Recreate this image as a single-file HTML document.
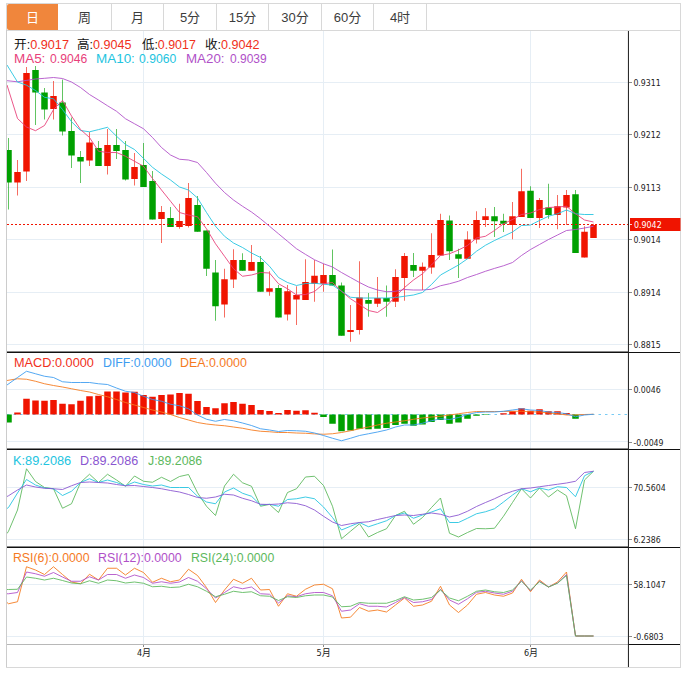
<!DOCTYPE html>
<html lang="zh"><head><meta charset="utf-8"><title>K线图</title>
<style>
html,body{margin:0;padding:0;background:#fff;}
body{width:682px;height:676px;position:relative;overflow:hidden;font-family:"Liberation Sans","Noto Sans CJK SC",sans-serif;}
.tab{position:absolute;top:4px;height:25.5px;line-height:28.7px;text-align:center;font-size:13px;color:#3c3c3c;border-right:1px solid #d8d8d8;}
.tab.on{background:#f0863c;color:#fff;border-right:0;border-radius:2px 0 0 2px;}
.lg{position:absolute;white-space:nowrap;font-size:12px;line-height:14px;height:14px;}
.lg span{position:absolute;top:0;display:inline-block;transform-origin:0 50%;}
.lg span span{position:static;display:inline;transform:none;}
</style></head><body>
<svg width="682" height="676" viewBox="0 0 682 676" style="position:absolute;left:0;top:0"><defs><clipPath id="cp"><rect x="6.5" y="30" width="622" height="615"/></clipPath></defs><g stroke="#e6eef5" stroke-width="1" shape-rendering="crispEdges"><line x1="7" y1="82.5" x2="628" y2="82.5"/><line x1="7" y1="134.5" x2="628" y2="134.5"/><line x1="7" y1="187.5" x2="628" y2="187.5"/><line x1="7" y1="239.5" x2="628" y2="239.5"/><line x1="7" y1="292.5" x2="628" y2="292.5"/><line x1="7" y1="344.5" x2="628" y2="344.5"/><line x1="7" y1="389.5" x2="628" y2="389.5"/><line x1="7" y1="441.5" x2="628" y2="441.5"/><line x1="7" y1="487.5" x2="628" y2="487.5"/><line x1="7" y1="539.5" x2="628" y2="539.5"/><line x1="7" y1="584.5" x2="628" y2="584.5"/><line x1="7" y1="636.5" x2="628" y2="636.5"/><line x1="143.5" y1="30" x2="143.5" y2="645"/><line x1="323.5" y1="30" x2="323.5" y2="645"/><line x1="530.5" y1="30" x2="530.5" y2="645"/></g><g clip-path="url(#cp)"><g stroke="#f01400" stroke-opacity="0.62" stroke-width="1"><line x1="17.5" y1="160.0" x2="17.5" y2="195.5"/><line x1="26.5" y1="67.0" x2="26.5" y2="181.0"/><line x1="53.5" y1="81.0" x2="53.5" y2="119.5"/><line x1="89.5" y1="132.0" x2="89.5" y2="166.0"/><line x1="107.5" y1="129.0" x2="107.5" y2="174.5"/><line x1="134.5" y1="153.0" x2="134.5" y2="185.5"/><line x1="161.5" y1="206.0" x2="161.5" y2="243.0"/><line x1="179.5" y1="203.75" x2="179.5" y2="228.75"/><line x1="188.5" y1="183.0" x2="188.5" y2="227.5"/><line x1="224.5" y1="268.75" x2="224.5" y2="317.5"/><line x1="233.5" y1="249.25" x2="233.5" y2="288.0"/><line x1="251.5" y1="245.0" x2="251.5" y2="270.75"/><line x1="269.5" y1="271.25" x2="269.5" y2="295.75"/><line x1="287.5" y1="285.0" x2="287.5" y2="320.5"/><line x1="296.5" y1="286.25" x2="296.5" y2="325.0"/><line x1="305.5" y1="259.25" x2="305.5" y2="300.0"/><line x1="314.5" y1="260.0" x2="314.5" y2="301.75"/><line x1="323.5" y1="263.75" x2="323.5" y2="291.75"/><line x1="350.5" y1="305.0" x2="350.5" y2="341.75"/><line x1="359.5" y1="261.25" x2="359.5" y2="334.5"/><line x1="377.5" y1="277.0" x2="377.5" y2="307.0"/><line x1="395.5" y1="269.25" x2="395.5" y2="307.0"/><line x1="404.5" y1="253.0" x2="404.5" y2="300.75"/><line x1="422.5" y1="262.5" x2="422.5" y2="290.0"/><line x1="431.5" y1="233.25" x2="431.5" y2="273.75"/><line x1="440.5" y1="213.75" x2="440.5" y2="255.5"/><line x1="467.5" y1="231.25" x2="467.5" y2="258.75"/><line x1="476.5" y1="211.25" x2="476.5" y2="243.5"/><line x1="485.5" y1="208.0" x2="485.5" y2="227.0"/><line x1="512.5" y1="202.0" x2="512.5" y2="239.25"/><line x1="521.5" y1="168.75" x2="521.5" y2="217.0"/><line x1="539.5" y1="198.0" x2="539.5" y2="228.0"/><line x1="557.5" y1="195.0" x2="557.5" y2="229.25"/><line x1="566.5" y1="190.0" x2="566.5" y2="225.0"/><line x1="584.5" y1="226.25" x2="584.5" y2="257.5"/><line x1="593.5" y1="223.75" x2="593.5" y2="238.0"/></g><g stroke="#00a000" stroke-opacity="0.62" stroke-width="1"><line x1="8.5" y1="138.0" x2="8.5" y2="209.5"/><line x1="35.5" y1="66.0" x2="35.5" y2="125.0"/><line x1="44.5" y1="88.0" x2="44.5" y2="119.5"/><line x1="62.5" y1="79.5" x2="62.5" y2="135.5"/><line x1="71.5" y1="117.5" x2="71.5" y2="168.0"/><line x1="80.5" y1="151.0" x2="80.5" y2="183.0"/><line x1="98.5" y1="141.0" x2="98.5" y2="166.0"/><line x1="116.5" y1="129.0" x2="116.5" y2="159.0"/><line x1="125.5" y1="141.0" x2="125.5" y2="180.5"/><line x1="143.5" y1="143.0" x2="143.5" y2="187.0"/><line x1="152.5" y1="171.0" x2="152.5" y2="219.5"/><line x1="170.5" y1="207.0" x2="170.5" y2="227.0"/><line x1="197.5" y1="196.0" x2="197.5" y2="231.75"/><line x1="206.5" y1="230.5" x2="206.5" y2="276.0"/><line x1="215.5" y1="260.0" x2="215.5" y2="320.75"/><line x1="242.5" y1="253.25" x2="242.5" y2="270.75"/><line x1="260.5" y1="256.0" x2="260.5" y2="291.75"/><line x1="278.5" y1="285.0" x2="278.5" y2="317.5"/><line x1="332.5" y1="249.5" x2="332.5" y2="285.5"/><line x1="341.5" y1="282.5" x2="341.5" y2="335.75"/><line x1="368.5" y1="293.0" x2="368.5" y2="316.75"/><line x1="386.5" y1="285.5" x2="386.5" y2="316.75"/><line x1="413.5" y1="253.0" x2="413.5" y2="277.0"/><line x1="449.5" y1="215.5" x2="449.5" y2="260.0"/><line x1="458.5" y1="248.75" x2="458.5" y2="278.0"/><line x1="494.5" y1="207.0" x2="494.5" y2="237.0"/><line x1="503.5" y1="213.75" x2="503.5" y2="232.0"/><line x1="530.5" y1="186.25" x2="530.5" y2="218.0"/><line x1="548.5" y1="183.75" x2="548.5" y2="218.75"/><line x1="575.5" y1="190.0" x2="575.5" y2="253.0"/></g><g fill="#f01400"><rect x="14.25" y="172.0" width="6.5" height="10.50"/><rect x="23.25" y="73.0" width="6.5" height="98.50"/><rect x="50.25" y="96.0" width="6.5" height="13.00"/><rect x="86.25" y="142.5" width="6.5" height="18.00"/><rect x="104.25" y="145.0" width="6.5" height="21.00"/><rect x="131.25" y="167.0" width="6.5" height="12.00"/><rect x="158.25" y="212.0" width="6.5" height="7.00"/><rect x="176.25" y="221.0" width="6.5" height="6.00"/><rect x="185.25" y="198.0" width="6.5" height="28.00"/><rect x="221.25" y="279.25" width="6.5" height="25.25"/><rect x="230.25" y="260.0" width="6.5" height="19.50"/><rect x="248.25" y="262.0" width="6.5" height="8.75"/><rect x="266.25" y="288.25" width="6.5" height="3.50"/><rect x="284.25" y="291.25" width="6.5" height="23.25"/><rect x="293.25" y="295.0" width="6.5" height="4.50"/><rect x="302.25" y="282.0" width="6.5" height="18.00"/><rect x="311.25" y="275.75" width="6.5" height="8.00"/><rect x="320.25" y="275.0" width="6.5" height="8.75"/><rect x="347.25" y="330.0" width="6.5" height="2.00"/><rect x="356.25" y="297.5" width="6.5" height="32.50"/><rect x="374.25" y="298.0" width="6.5" height="5.75"/><rect x="392.25" y="277.0" width="6.5" height="24.75"/><rect x="401.25" y="256.0" width="6.5" height="22.00"/><rect x="419.25" y="266.75" width="6.5" height="4.00"/><rect x="428.25" y="255.0" width="6.5" height="12.50"/><rect x="437.25" y="220.0" width="6.5" height="35.50"/><rect x="464.25" y="239.5" width="6.5" height="19.25"/><rect x="473.25" y="220.0" width="6.5" height="19.50"/><rect x="482.25" y="216.25" width="6.5" height="3.75"/><rect x="509.25" y="216.25" width="6.5" height="8.75"/><rect x="518.25" y="191.25" width="6.5" height="25.75"/><rect x="536.25" y="200.0" width="6.5" height="18.00"/><rect x="554.25" y="206.25" width="6.5" height="8.75"/><rect x="563.25" y="195.0" width="6.5" height="12.50"/><rect x="581.25" y="231.75" width="6.5" height="25.75"/><rect x="590.25" y="225.0" width="6.5" height="13.00"/></g><g fill="#00a000"><rect x="5.25" y="150.0" width="6.5" height="32.50"/><rect x="32.25" y="70.0" width="6.5" height="22.50"/><rect x="41.25" y="92.5" width="6.5" height="17.00"/><rect x="59.25" y="102.5" width="6.5" height="29.00"/><rect x="68.25" y="131.0" width="6.5" height="24.50"/><rect x="77.25" y="157.0" width="6.5" height="4.50"/><rect x="95.25" y="148.0" width="6.5" height="18.00"/><rect x="113.25" y="145.0" width="6.5" height="6.00"/><rect x="122.25" y="150.0" width="6.5" height="29.50"/><rect x="140.25" y="165.0" width="6.5" height="22.00"/><rect x="149.25" y="181.0" width="6.5" height="38.50"/><rect x="167.25" y="218.0" width="6.5" height="9.00"/><rect x="194.25" y="205.0" width="6.5" height="26.75"/><rect x="203.25" y="230.5" width="6.5" height="38.25"/><rect x="212.25" y="272.5" width="6.5" height="33.75"/><rect x="239.25" y="260.0" width="6.5" height="10.75"/><rect x="257.25" y="262.0" width="6.5" height="29.75"/><rect x="275.25" y="288.0" width="6.5" height="29.50"/><rect x="329.25" y="275.0" width="6.5" height="10.50"/><rect x="338.25" y="285.5" width="6.5" height="50.25"/><rect x="365.25" y="300.0" width="6.5" height="3.75"/><rect x="383.25" y="298.0" width="6.5" height="3.75"/><rect x="410.25" y="265.0" width="6.5" height="5.75"/><rect x="446.25" y="220.5" width="6.5" height="30.75"/><rect x="455.25" y="254.25" width="6.5" height="4.50"/><rect x="491.25" y="216.25" width="6.5" height="5.00"/><rect x="500.25" y="220.75" width="6.5" height="3.00"/><rect x="527.25" y="190.75" width="6.5" height="27.25"/><rect x="545.25" y="207.5" width="6.5" height="7.50"/><rect x="572.25" y="194.25" width="6.5" height="58.75"/></g><line x1="7" y1="224.5" x2="628" y2="224.5" stroke="#f01400" stroke-width="1" stroke-dasharray="2,2"/><polyline points="7.00,80.70 17.50,81.80 26.50,80.40 35.50,79.00 44.50,78.30 53.50,77.50 62.50,78.50 71.50,82.00 80.50,87.50 89.50,94.50 98.50,100.00 107.50,105.75 116.50,111.25 125.50,118.75 134.50,123.75 143.50,128.75 152.50,137.50 161.50,147.50 170.50,155.00 179.50,159.25 188.50,160.00 197.50,162.50 206.50,172.50 215.50,183.25 224.50,192.50 233.50,200.00 242.50,206.25 251.50,212.00 260.50,218.75 269.50,226.25 278.50,233.75 287.50,241.25 296.50,248.75 305.50,254.40 314.50,259.75 323.50,263.75 332.50,267.00 341.50,272.50 350.50,277.50 359.50,282.50 368.50,287.00 377.50,290.00 386.50,291.75 395.50,291.25 404.50,289.50 413.50,290.00 422.50,290.00 431.50,289.25 440.50,285.75 449.50,283.75 458.50,281.25 467.50,277.50 476.50,274.50 485.50,271.25 494.50,268.40 503.50,265.75 512.50,262.50 521.50,255.50 530.50,249.50 539.50,244.50 548.50,239.50 557.50,235.00 566.50,230.50 575.50,229.50 584.50,228.00 593.50,226.25" fill="none" stroke="#b050c8" stroke-width="0.88" stroke-linejoin="round"/><polyline points="7.00,65.00 17.50,82.00 26.50,85.20 35.50,90.50 44.50,97.30 53.50,98.80 62.50,109.50 71.50,121.70 80.50,130.50 89.50,131.80 98.50,129.60 107.50,127.30 116.50,136.20 125.50,144.50 134.50,149.50 143.50,158.40 152.50,167.30 161.50,174.00 170.50,180.00 179.50,187.00 188.50,190.00 197.50,198.00 206.50,212.50 215.50,226.25 224.50,236.25 233.50,243.00 242.50,247.50 251.50,253.00 260.50,257.50 269.50,266.25 278.50,277.50 287.50,282.50 296.50,285.50 305.50,283.50 314.50,283.25 323.50,284.25 332.50,285.00 341.50,291.25 350.50,297.25 359.50,298.00 368.50,298.00 377.50,298.00 386.50,298.00 395.50,297.50 404.50,296.25 413.50,295.00 422.50,292.50 431.50,284.50 440.50,275.00 449.50,270.00 458.50,265.00 467.50,258.75 476.50,251.25 485.50,245.25 494.50,240.50 503.50,236.25 512.50,232.00 521.50,225.50 530.50,225.00 539.50,220.50 548.50,216.25 557.50,213.75 566.50,210.00 575.50,213.75 584.50,214.50 593.50,214.50" fill="none" stroke="#22c4e0" stroke-width="0.88" stroke-linejoin="round"/><polyline points="7.00,85.00 17.50,118.50 26.50,127.00 35.50,130.70 44.50,125.50 53.50,109.60 62.50,100.30 71.50,116.00 80.50,129.50 89.50,137.50 98.50,151.25 107.50,152.50 116.50,152.50 125.50,156.25 134.50,161.25 143.50,166.25 152.50,178.50 161.50,190.00 170.50,201.25 179.50,212.50 188.50,215.00 197.50,216.75 206.50,228.75 215.50,243.75 224.50,256.25 233.50,268.75 242.50,276.25 251.50,275.00 260.50,272.50 269.50,273.00 278.50,283.75 287.50,288.75 296.50,295.00 305.50,294.50 314.50,291.50 323.50,283.75 332.50,282.50 341.50,291.25 350.50,298.75 359.50,304.50 368.50,310.50 377.50,312.50 386.50,306.25 395.50,296.25 404.50,287.50 413.50,280.00 422.50,273.75 431.50,265.00 440.50,255.50 449.50,253.75 458.50,250.00 467.50,245.50 476.50,238.00 485.50,236.25 494.50,230.50 503.50,223.75 512.50,219.50 521.50,214.50 530.50,213.00 539.50,209.50 548.50,207.50 557.50,207.00 566.50,206.25 575.50,213.75 584.50,220.00 593.50,222.00" fill="none" stroke="#e8407a" stroke-width="0.88" stroke-linejoin="round"/><line x1="7" y1="414.5" x2="628" y2="414.5" stroke="#62c2f2" stroke-opacity="0.85" stroke-width="1" stroke-dasharray="2.5,4"/><g fill="#f01400"><rect x="14.25" y="412.5" width="6.5" height="2.00"/><rect x="23.25" y="398.75" width="6.5" height="15.75"/><rect x="32.25" y="400.5" width="6.5" height="14.00"/><rect x="41.25" y="400.75" width="6.5" height="13.75"/><rect x="50.25" y="400" width="6.5" height="14.50"/><rect x="59.25" y="403.75" width="6.5" height="10.75"/><rect x="68.25" y="404.25" width="6.5" height="10.25"/><rect x="77.25" y="400.75" width="6.5" height="13.75"/><rect x="86.25" y="396.25" width="6.5" height="18.25"/><rect x="95.25" y="395.75" width="6.5" height="18.75"/><rect x="104.25" y="391.5" width="6.5" height="23.00"/><rect x="113.25" y="391.5" width="6.5" height="23.00"/><rect x="122.25" y="392.5" width="6.5" height="22.00"/><rect x="131.25" y="391.75" width="6.5" height="22.75"/><rect x="140.25" y="395" width="6.5" height="19.50"/><rect x="149.25" y="396.75" width="6.5" height="17.75"/><rect x="158.25" y="395" width="6.5" height="19.50"/><rect x="167.25" y="394.5" width="6.5" height="20.00"/><rect x="176.25" y="393" width="6.5" height="21.50"/><rect x="185.25" y="393.75" width="6.5" height="20.75"/><rect x="194.25" y="401" width="6.5" height="13.50"/><rect x="203.25" y="407" width="6.5" height="7.50"/><rect x="212.25" y="408.25" width="6.5" height="6.25"/><rect x="221.25" y="403.25" width="6.5" height="11.25"/><rect x="230.25" y="402" width="6.5" height="12.50"/><rect x="239.25" y="403.75" width="6.5" height="10.75"/><rect x="248.25" y="405" width="6.5" height="9.50"/><rect x="257.25" y="410" width="6.5" height="4.50"/><rect x="266.25" y="411" width="6.5" height="3.50"/><rect x="275.25" y="413" width="6.5" height="1.50"/><rect x="284.25" y="410" width="6.5" height="4.50"/><rect x="293.25" y="410.75" width="6.5" height="3.75"/><rect x="302.25" y="410.25" width="6.5" height="4.25"/><rect x="311.25" y="412.75" width="6.5" height="1.75"/><rect x="500.25" y="413.25" width="6.5" height="1.25"/><rect x="509.25" y="411.25" width="6.5" height="3.25"/><rect x="518.25" y="408.25" width="6.5" height="6.25"/><rect x="527.25" y="410.75" width="6.5" height="3.75"/><rect x="536.25" y="409.25" width="6.5" height="5.25"/><rect x="545.25" y="411.25" width="6.5" height="3.25"/><rect x="554.25" y="411.25" width="6.5" height="3.25"/><rect x="563.25" y="413" width="6.5" height="1.50"/><rect x="581.25" y="414.2" width="6.5" height="0.30"/></g><g fill="#00a000"><rect x="5.25" y="414.5" width="6.5" height="8.00"/><rect x="320.25" y="414.5" width="6.5" height="2.50"/><rect x="329.25" y="414.5" width="6.5" height="9.25"/><rect x="338.25" y="414.5" width="6.5" height="16.75"/><rect x="347.25" y="414.5" width="6.5" height="16.00"/><rect x="356.25" y="414.5" width="6.5" height="14.25"/><rect x="365.25" y="414.5" width="6.5" height="14.75"/><rect x="374.25" y="414.5" width="6.5" height="14.25"/><rect x="383.25" y="414.5" width="6.5" height="13.50"/><rect x="392.25" y="414.5" width="6.5" height="10.50"/><rect x="401.25" y="414.5" width="6.5" height="9.25"/><rect x="410.25" y="414.5" width="6.5" height="11.25"/><rect x="419.25" y="414.5" width="6.5" height="10.00"/><rect x="428.25" y="414.5" width="6.5" height="7.50"/><rect x="437.25" y="414.5" width="6.5" height="5.50"/><rect x="446.25" y="414.5" width="6.5" height="9.25"/><rect x="455.25" y="414.5" width="6.5" height="8.00"/><rect x="464.25" y="414.5" width="6.5" height="4.25"/><rect x="473.25" y="414.5" width="6.5" height="1.25"/><rect x="482.25" y="414.5" width="6.5" height="0.50"/><rect x="572.25" y="414.5" width="6.5" height="4.25"/></g><polyline points="7.00,380.50 17.50,378.75 26.50,379.25 35.50,381.25 44.50,383.75 53.50,385.50 62.50,387.00 71.50,388.75 80.50,390.50 89.50,392.00 98.50,394.50 107.50,396.75 116.50,399.50 125.50,402.50 134.50,405.00 143.50,407.50 152.50,410.00 161.50,412.00 170.50,414.50 179.50,417.50 188.50,420.00 197.50,422.50 206.50,424.00 215.50,425.00 224.50,425.75 233.50,427.00 242.50,428.25 251.50,430.00 260.50,431.25 269.50,431.75 278.50,432.50 287.50,432.50 296.50,433.00 305.50,433.25 314.50,433.90 323.50,434.25 332.50,433.75 341.50,432.50 350.50,430.75 359.50,428.75 368.50,427.00 377.50,425.00 386.50,423.25 395.50,422.00 404.50,420.75 413.50,419.25 422.50,418.00 431.50,417.00 440.50,416.25 449.50,415.00 458.50,413.75 467.50,412.50 476.50,411.50 485.50,411.50 494.50,411.50 503.50,411.50 512.50,411.25 521.50,411.25 530.50,411.75 539.50,412.00 548.50,413.00 557.50,413.75 566.50,415.00 575.50,415.00 584.50,414.50 593.50,414.25" fill="none" stroke="#f57a1e" stroke-width="0.88" stroke-linejoin="round"/><polyline points="7.00,385.00 17.50,377.50 26.50,371.25 35.50,373.75 44.50,376.25 53.50,377.50 62.50,381.75 71.50,382.50 80.50,382.50 89.50,382.50 98.50,383.75 107.50,384.50 116.50,388.00 125.50,391.25 134.50,392.50 143.50,396.25 152.50,399.50 161.50,401.25 170.50,404.25 179.50,405.75 188.50,408.75 197.50,415.00 206.50,419.25 215.50,421.25 224.50,419.50 233.50,420.75 242.50,423.00 251.50,425.50 260.50,428.75 269.50,430.00 278.50,431.50 287.50,430.50 296.50,430.75 305.50,431.25 314.50,433.00 323.50,435.50 332.50,438.25 341.50,440.75 350.50,438.25 359.50,435.50 368.50,433.75 377.50,432.00 386.50,430.00 395.50,427.00 404.50,425.00 413.50,425.00 422.50,423.25 431.50,420.75 440.50,418.75 449.50,419.50 458.50,417.50 467.50,414.50 476.50,412.50 485.50,412.00 494.50,412.00 503.50,411.25 512.50,410.00 521.50,408.75 530.50,410.00 539.50,410.50 548.50,412.00 557.50,412.50 566.50,413.75 575.50,416.75 584.50,415.00 593.50,414.25" fill="none" stroke="#3c9cf0" stroke-width="0.88" stroke-linejoin="round"/><polyline points="7.00,533.50 8.50,531.25 17.50,510.00 26.50,468.75 35.50,481.50 44.50,487.50 53.50,488.75 62.50,508.25 71.50,503.75 80.50,482.50 89.50,474.25 98.50,482.50 107.50,474.25 116.50,480.00 125.50,486.25 134.50,476.00 143.50,481.25 152.50,482.25 161.50,477.25 170.50,481.50 179.50,476.50 188.50,474.50 197.50,492.75 206.50,506.25 215.50,515.50 224.50,486.00 233.50,474.25 242.50,482.75 251.50,486.25 260.50,506.25 269.50,504.40 278.50,512.50 287.50,492.50 296.50,488.75 305.50,477.00 314.50,476.25 323.50,485.50 332.50,506.25 341.50,538.75 350.50,531.25 359.50,523.75 368.50,537.00 377.50,532.50 386.50,528.75 395.50,515.50 404.50,511.25 413.50,524.25 422.50,517.50 431.50,507.50 440.50,498.00 449.50,533.25 458.50,537.00 467.50,532.50 476.50,528.50 485.50,528.75 494.50,528.25 503.50,516.25 512.50,502.50 521.50,488.75 530.50,498.00 539.50,488.00 548.50,497.00 557.50,490.00 566.50,495.75 575.50,528.75 584.50,480.00 593.50,471.25" fill="none" stroke="#5cb85c" stroke-width="0.88" stroke-linejoin="round"/><polyline points="7.00,508.50 8.50,507.50 17.50,493.00 26.50,479.50 35.50,485.00 44.50,488.00 53.50,488.75 62.50,495.50 71.50,491.25 80.50,482.50 89.50,478.75 98.50,482.50 107.50,480.00 116.50,482.50 125.50,485.75 134.50,482.00 143.50,484.50 152.50,486.00 161.50,485.00 170.50,487.50 179.50,487.50 188.50,487.50 197.50,496.25 206.50,502.00 215.50,503.75 224.50,492.00 233.50,488.00 242.50,493.25 251.50,496.25 260.50,505.00 269.50,504.25 278.50,506.25 287.50,499.50 296.50,498.75 305.50,497.00 314.50,498.75 323.50,507.00 332.50,517.50 341.50,530.00 350.50,526.25 359.50,522.50 368.50,526.75 377.50,523.75 386.50,520.75 395.50,515.50 404.50,513.00 413.50,518.25 422.50,515.00 431.50,512.00 440.50,508.75 449.50,522.50 458.50,522.50 467.50,518.25 476.50,513.75 485.50,511.75 494.50,508.75 503.50,502.00 512.50,495.00 521.50,488.75 530.50,491.75 539.50,488.00 548.50,490.00 557.50,486.75 566.50,487.50 575.50,496.75 584.50,475.75 593.50,471.25" fill="none" stroke="#22c4e0" stroke-width="0.88" stroke-linejoin="round"/><polyline points="7.00,496.50 8.50,495.75 17.50,490.00 26.50,485.00 35.50,487.00 44.50,488.25 53.50,488.75 62.50,489.50 71.50,485.75 80.50,482.50 89.50,482.00 98.50,482.50 107.50,483.00 116.50,484.50 125.50,485.75 134.50,485.50 143.50,486.50 152.50,487.50 161.50,488.75 170.50,490.50 179.50,492.00 188.50,494.50 197.50,497.50 206.50,498.25 215.50,497.00 224.50,494.25 233.50,495.00 242.50,498.25 251.50,500.75 260.50,504.25 269.50,504.50 278.50,504.00 287.50,502.75 296.50,503.50 305.50,505.75 314.50,510.00 323.50,516.25 332.50,522.00 341.50,525.50 350.50,523.75 359.50,522.50 368.50,521.75 377.50,519.50 386.50,517.50 395.50,515.50 404.50,515.00 413.50,515.50 422.50,514.25 431.50,513.00 440.50,514.25 449.50,517.00 458.50,515.00 467.50,511.25 476.50,506.50 485.50,502.50 494.50,498.75 503.50,494.50 512.50,491.25 521.50,488.75 530.50,488.00 539.50,486.75 548.50,485.50 557.50,484.25 566.50,483.00 575.50,481.25 584.50,472.50 593.50,471.25" fill="none" stroke="#8a55d0" stroke-width="0.88" stroke-linejoin="round"/><polyline points="7.00,602.50 8.50,603.75 17.50,601.75 26.50,566.75 35.50,570.00 44.50,574.50 53.50,566.75 62.50,574.50 71.50,582.00 80.50,583.75 89.50,574.25 98.50,580.00 107.50,568.25 116.50,568.25 125.50,575.00 134.50,568.25 143.50,572.50 152.50,582.25 161.50,578.25 170.50,581.75 179.50,580.00 188.50,569.25 197.50,575.50 206.50,587.50 215.50,602.50 224.50,590.00 233.50,579.25 242.50,583.25 251.50,578.25 260.50,590.00 269.50,589.50 278.50,606.25 287.50,593.75 296.50,596.25 305.50,589.25 314.50,585.00 323.50,584.25 332.50,588.75 341.50,618.00 350.50,617.20 359.50,607.50 368.50,611.25 377.50,610.00 386.50,612.00 395.50,605.00 404.50,598.00 413.50,606.25 422.50,605.00 431.50,601.25 440.50,586.25 449.50,605.00 458.50,612.50 467.50,605.00 476.50,594.25 485.50,592.50 494.50,595.00 503.50,596.25 512.50,593.00 521.50,579.25 530.50,591.75 539.50,580.00 548.50,587.00 557.50,582.00 566.50,572.00 575.50,636.00 584.50,636.00 593.50,636.00" fill="none" stroke="#f57a1e" stroke-width="0.88" stroke-linejoin="round"/><polyline points="7.00,593.75 8.50,593.75 17.50,592.50 26.50,572.00 35.50,573.75 44.50,576.25 53.50,572.50 62.50,577.00 71.50,581.25 80.50,581.25 89.50,576.75 98.50,580.00 107.50,574.50 116.50,574.50 125.50,578.25 134.50,575.00 143.50,577.50 152.50,583.25 161.50,581.75 170.50,583.25 179.50,582.00 188.50,577.50 197.50,581.25 206.50,588.75 215.50,598.00 224.50,592.50 233.50,586.75 242.50,588.75 251.50,587.00 260.50,593.75 269.50,594.25 278.50,603.00 287.50,595.75 296.50,596.75 305.50,593.75 314.50,592.50 323.50,592.50 332.50,595.75 341.50,611.25 350.50,610.00 359.50,603.75 368.50,606.25 377.50,606.25 386.50,607.00 395.50,602.50 404.50,597.50 413.50,602.50 422.50,601.75 431.50,599.50 440.50,589.25 449.50,600.00 458.50,604.25 467.50,598.75 476.50,592.25 485.50,591.25 494.50,593.00 503.50,594.25 512.50,591.25 521.50,580.75 530.50,590.75 539.50,581.25 548.50,587.00 557.50,583.00 566.50,574.50 575.50,636.00 584.50,636.00 593.50,636.00" fill="none" stroke="#b050c8" stroke-width="0.88" stroke-linejoin="round"/><polyline points="7.00,589.50 8.50,589.50 17.50,589.25 26.50,577.00 35.50,578.25 44.50,580.00 53.50,578.25 62.50,580.50 71.50,583.00 80.50,583.75 89.50,580.75 98.50,583.25 107.50,580.00 116.50,580.75 125.50,583.00 134.50,582.00 143.50,583.25 152.50,586.75 161.50,586.25 170.50,587.50 179.50,587.00 188.50,584.25 197.50,586.75 206.50,591.25 215.50,596.75 224.50,594.25 233.50,591.25 242.50,592.50 251.50,591.75 260.50,595.75 269.50,596.25 278.50,600.50 287.50,596.75 296.50,597.50 305.50,595.75 314.50,595.00 323.50,595.00 332.50,597.00 341.50,606.75 350.50,606.25 359.50,602.50 368.50,603.25 377.50,603.25 386.50,603.25 395.50,600.50 404.50,596.75 413.50,600.00 422.50,599.25 431.50,597.50 440.50,590.00 449.50,598.00 458.50,600.75 467.50,596.25 476.50,591.25 485.50,590.00 494.50,591.75 503.50,592.50 512.50,590.00 521.50,581.25 530.50,590.00 539.50,581.75 548.50,587.00 557.50,583.25 566.50,575.50 575.50,636.00 584.50,636.00 593.50,636.00" fill="none" stroke="#5cb85c" stroke-width="0.88" stroke-linejoin="round"/></g><g shape-rendering="crispEdges"><rect x="6.5" y="3.5" width="674" height="664" fill="none" stroke="#d8d8d8"/><line x1="6.5" y1="30" x2="6.5" y2="667" stroke="#cccccc"/><line x1="7" y1="30.5" x2="680" y2="30.5" stroke="#d8d8d8"/><line x1="7" y1="644.5" x2="628" y2="644.5" stroke="#b8b8b8"/><line x1="628" y1="644.5" x2="680" y2="644.5" stroke="#111"/><line x1="7" y1="352.3" x2="628" y2="352.3" stroke="#111" stroke-width="1.4" shape-rendering="auto"/><line x1="628" y1="352.5" x2="680" y2="352.5" stroke="#111" stroke-width="1" shape-rendering="auto"/><line x1="7" y1="449.3" x2="628" y2="449.3" stroke="#111" stroke-width="1.4" shape-rendering="auto"/><line x1="628" y1="449.5" x2="680" y2="449.5" stroke="#111" stroke-width="1" shape-rendering="auto"/><line x1="7" y1="547.3" x2="628" y2="547.3" stroke="#111" stroke-width="1.4" shape-rendering="auto"/><line x1="628" y1="547.5" x2="680" y2="547.5" stroke="#111" stroke-width="1" shape-rendering="auto"/><line x1="628.45" y1="31" x2="628.45" y2="667" stroke="#262626" stroke-width="1.05" shape-rendering="auto"/><g stroke="#8c8c8c"><line x1="629" y1="82.5" x2="632" y2="82.5"/><line x1="629" y1="134.5" x2="632" y2="134.5"/><line x1="629" y1="187.5" x2="632" y2="187.5"/><line x1="629" y1="239.5" x2="632" y2="239.5"/><line x1="629" y1="292.5" x2="632" y2="292.5"/><line x1="629" y1="344.5" x2="632" y2="344.5"/><line x1="629" y1="389.5" x2="632" y2="389.5"/><line x1="629" y1="442.5" x2="632" y2="442.5"/><line x1="629" y1="487.5" x2="632" y2="487.5"/><line x1="629" y1="539.5" x2="632" y2="539.5"/><line x1="629" y1="584.5" x2="632" y2="584.5"/><line x1="629" y1="636.5" x2="632" y2="636.5"/><line x1="143.5" y1="645" x2="143.5" y2="647"/><line x1="323.5" y1="645" x2="323.5" y2="647"/><line x1="530.5" y1="645" x2="530.5" y2="647"/></g></g><rect x="630" y="218" width="50.5" height="13" fill="#f01400"/><line x1="629" y1="224.5" x2="632" y2="224.5" stroke="#fff" stroke-opacity="0.8"/><g font-family="'DejaVu Sans Condensed','Liberation Sans',sans-serif" font-size="8.7" fill="#1c1c1c"><text x="633.4" y="85.8">0.9311</text><text x="633.4" y="137.8">0.9212</text><text x="633.4" y="190.6">0.9113</text><text x="633.4" y="243.0">0.9014</text><text x="633.4" y="295.5">0.8914</text><text x="633.4" y="347.9">0.8815</text><text x="633.4" y="393.0">0.0046</text><text x="633.4" y="445.5">-0.0049</text><text x="633.4" y="490.8">70.5604</text><text x="633.4" y="542.9">6.2386</text><text x="633.4" y="587.6">58.1047</text><text x="633.4" y="640.0">-0.6803</text></g><text x="634" y="228" font-family="'DejaVu Sans Condensed','Liberation Sans',sans-serif" font-size="8.8" fill="#fff">0.9042</text><g font-family="'DejaVu Sans Condensed','Liberation Sans','Noto Sans CJK SC',sans-serif" font-size="9" fill="#222"><text x="144" y="656" text-anchor="middle">4月</text><text x="323.7" y="656" text-anchor="middle">5月</text><text x="531" y="656" text-anchor="middle">6月</text></g></svg>
<div class="tab on" style="left:7px;width:51px">日</div><div class="tab" style="left:58px;width:53px">周</div><div class="tab" style="left:112px;width:51px">月</div><div class="tab" style="left:164px;width:52px">5分</div><div class="tab" style="left:217px;width:51px">15分</div><div class="tab" style="left:269px;width:52px">30分</div><div class="tab" style="left:322px;width:51px">60分</div><div class="tab" style="left:374px;width:52px">4时</div>
<div class="lg" style="left:0;top:37.5px"><span style="left:13.77px;color:#111;transform:scaleX(1.0562)">开:<span style="color:#f03020">0.9017</span></span><span style="left:77.48px;color:#111;transform:scaleX(1.0471)">高:<span style="color:#f03020">0.9045</span></span><span style="left:141.74px;color:#111;transform:scaleX(1.0341)">低:<span style="color:#f03020">0.9017</span></span><span style="left:204.57px;color:#111;transform:scaleX(1.0483)">收:<span style="color:#f03020">0.9042</span></span></div>
<div class="lg" style="left:0;top:51.5px"><span style="left:14.30px;color:#e8407a;transform:scaleX(1.1192)">MA5:</span><span style="left:49.69px;color:#e8407a;transform:scaleX(1.0126)">0.9046</span><span style="left:95.81px;color:#22c4e0;transform:scaleX(1.1200)">MA10:</span><span style="left:139.44px;color:#22c4e0;transform:scaleX(1.0126)">0.9060</span><span style="left:185.96px;color:#b050c8;transform:scaleX(1.1115)">MA20:</span><span style="left:229.55px;color:#b050c8;transform:scaleX(0.9986)">0.9039</span></div>
<div class="lg" style="left:0;top:355.5px"><span style="left:14.35px;color:#f03020;transform:scaleX(1.0595)">MACD:0.0000</span><span style="left:102.77px;color:#3c9cf0;transform:scaleX(1.0268)">DIFF:0.0000</span><span style="left:179.67px;color:#f57a1e;transform:scaleX(1.0340)">DEA:0.0000</span></div>
<div class="lg" style="left:0;top:453.5px"><span style="left:13.33px;color:#22c4e0;transform:scaleX(1.0638)">K:89.2086</span><span style="left:80.30px;color:#8a55d0;transform:scaleX(1.0500)">D:89.2086</span><span style="left:148.45px;color:#5cb85c;transform:scaleX(1.0288)">J:89.2086</span></div>
<div class="lg" style="left:0;top:550.5px"><span style="left:13.33px;color:#f57a1e;transform:scaleX(1.0239)">RSI(6):0.0000</span><span style="left:98.12px;color:#b050c8;transform:scaleX(1.0282)">RSI(12):0.0000</span><span style="left:190.53px;color:#5cb85c;transform:scaleX(1.0231)">RSI(24):0.0000</span></div>

</body></html>
